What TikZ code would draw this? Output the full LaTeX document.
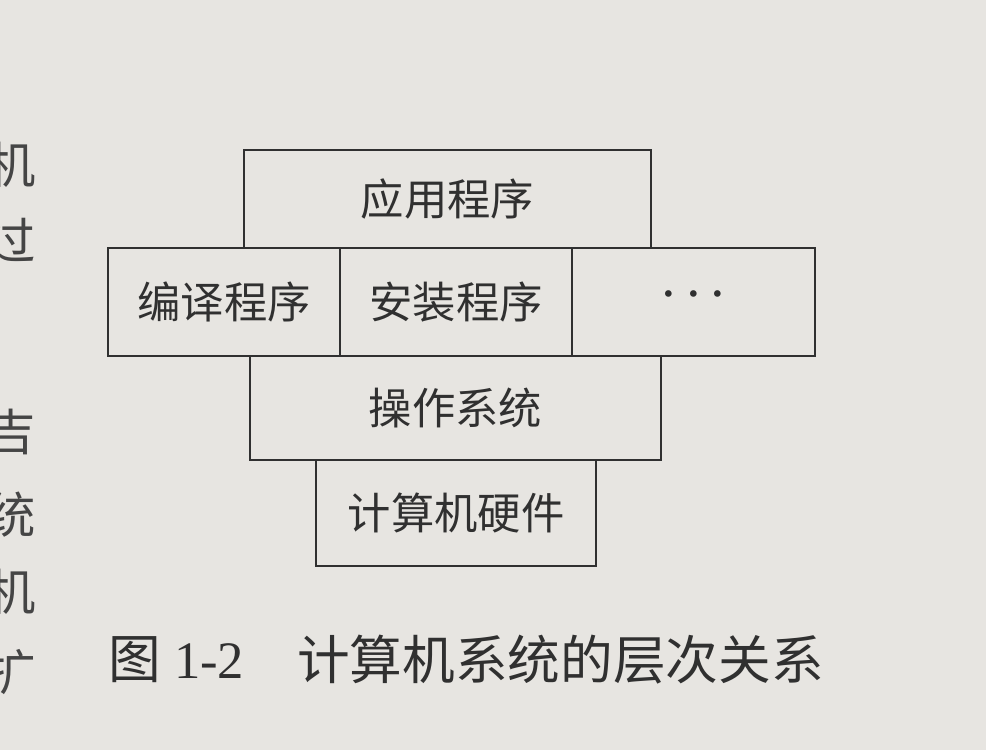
\documentclass[tikz,border=0pt]{standalone}
\usepackage{fontspec}
\newfontfamily\cjk{Noto Sans CJK SC}
\newfontfamily\lat{Liberation Serif}
\definecolor{paper}{RGB}{231,229,225}
\definecolor{ink}{RGB}{48,48,48}
\begin{document}
\begin{tikzpicture}[x=0.75pt,y=-0.75pt,
  box/.style={draw=ink, line width=2.1pt, inner sep=0pt, text=ink,
    font=\cjk\fontsize{32.5}{33}\selectfont},
  captext/.style={inner sep=0pt, text=ink, font=\cjk\fontsize{39.5}{40}\selectfont},
  side/.style={inner sep=0pt, text=ink!90, font=\cjk\fontsize{37}{38}\selectfont, anchor=east}]
\useasboundingbox[fill=paper] (0,0) rectangle (986,750);
% left margin text
\node[side] (s1) at (36,165) {机};
\node[side] (s2) at (36,240) {过};
\node[side] (s3) at (36,432) {吉};
\node[side] (s4) at (36,515) {统};
\node[side] (s5) at (36,592) {机};
\node[side] (s6) at (36,672) {扩};
% layers
\node[box, minimum width=305.25pt, minimum height=73.5pt] (app) at (447.5,199) {应用程序};
\node[box, minimum width=174pt, minimum height=81pt] (comp) at (224,302) {编译程序};
\node[box, minimum width=174pt, minimum height=81pt] (inst) at (456,302) {安装程序};
\node[box, minimum width=182.25pt, minimum height=81pt, font=\lat\fontsize{42}{42}\selectfont] (more) at (693.5,302) {·\hspace{0.1em}·\hspace{0.1em}·};
\node[box, minimum width=308.25pt, minimum height=78pt] (os) at (455.5,408) {操作系统};
\node[box, minimum width=210pt, minimum height=79.5pt] (hw) at (456,513) {计算机硬件};
% caption
\node[captext, anchor=west] (fig) at (108,660) {图\hspace{0.25em}{\lat 1-2}};
\node[captext, anchor=west] (title) at (297,660) {计算机系统的层次关系};
\end{tikzpicture}
\end{document}
